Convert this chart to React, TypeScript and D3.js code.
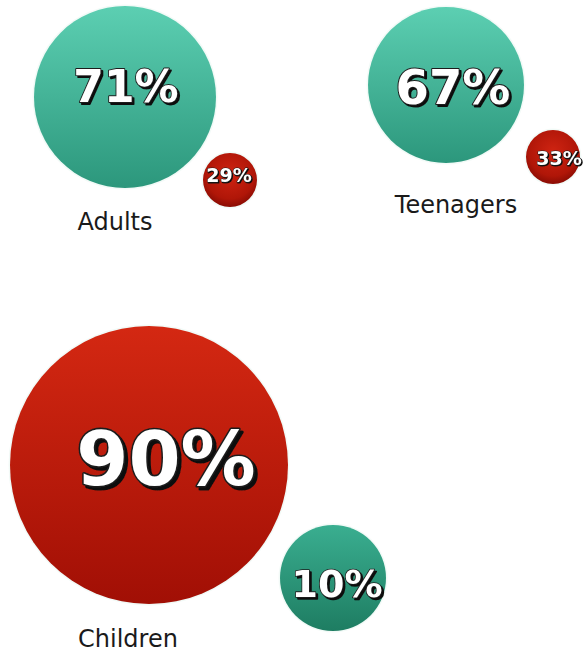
import React from "react";
import * as d3 from "d3";

// ---- data ----
const groups = ["Adults", "Teenagers", "Children"];
const tealValues = [71, 67, 10];
const redValues = [29, 33, 90];

// ---- layout (positions / sizes, not data) ----
const tealLayout = [
  { cx: 125, cy: 97, r: 91, fs: 44, tx: 126, ty: 102 },
  { cx: 446, cy: 85, r: 78, fs: 48, tx: 453, ty: 104 },
  { cx: 333, cy: 578, r: 53, fs: 38, tx: 337, ty: 597 },
];
const redLayout = [
  { cx: 230, cy: 180, r: 27, fs: 19, tx: 229, ty: 182 },
  { cx: 553, cy: 157, r: 27, fs: 19, tx: 559, ty: 165 },
  { cx: 149, cy: 465, r: 139, fs: 75, tx: 166, ty: 485 },
];
const labelLayout = [
  { x: 115, y: 230 },
  { x: 456, y: 213 },
  { x: 128, y: 647 },
];

const fmt = d3.format("d");

function Bubble({ cx, cy, r, fill }: { cx: number; cy: number; r: number; fill: string }) {
  return (
    <g>
      <circle cx={cx} cy={cy} r={r + 1.5} fill="#eaf6f2" opacity={0.6} />
      <circle cx={cx} cy={cy} r={r} fill={fill} />
    </g>
  );
}

function PctText({ x, y, fs, text }: { x: number; y: number; fs: number; text: string }) {
  const sw = Math.max(1, fs / 24);
  const filterId = fs >= 60 ? "shadowL" : fs >= 30 ? "shadowM" : "shadowS";
  return (
    <text
      x={x}
      y={y}
      fontFamily="'DejaVu Sans', sans-serif"
      fontWeight="bold"
      fontSize={fs}
      textAnchor="middle"
      fill="#ffffff"
      stroke="#1e1e1e"
      strokeWidth={sw}
      strokeLinejoin="round"
      filter={`url(#${filterId})`}
      style={{ paintOrder: "stroke" }}
    >
      {text}
    </text>
  );
}

function ShadowFilter({ id, d }: { id: string; d: number }) {
  return (
    <filter id={id} x="-20%" y="-30%" width="140%" height="160%">
      <feOffset in="SourceAlpha" dx={d} dy={d} result="off" />
      <feFlood floodColor="#111111" result="col" />
      <feComposite in="col" in2="off" operator="in" result="shadow" />
      <feMerge>
        <feMergeNode in="shadow" />
        <feMergeNode in="SourceGraphic" />
      </feMerge>
    </filter>
  );
}

export default function App() {
  const width = 587;
  const height = 666;
  return (
    <svg
      width={width}
      height={height}
      style={{ position: "absolute", left: 0, top: 0, background: "#ffffff" }}
    >
      <defs>
        <linearGradient id="tealGrad" x1="0" y1="0" x2="0" y2="1">
          <stop offset="0%" stopColor="#5ccfb2" />
          <stop offset="100%" stopColor="#2c977c" />
        </linearGradient>
        <linearGradient id="tealDarkGrad" x1="0" y1="0" x2="0" y2="1">
          <stop offset="0%" stopColor="#3aae90" />
          <stop offset="100%" stopColor="#1e7d62" />
        </linearGradient>
        <linearGradient id="redGrad" x1="0" y1="0" x2="0" y2="1">
          <stop offset="0%" stopColor="#d42812" />
          <stop offset="100%" stopColor="#a10f05" />
        </linearGradient>
        <radialGradient id="redSmallGrad" cx="0.5" cy="0.4" r="0.6">
          <stop offset="0%" stopColor="#cf2412" />
          <stop offset="75%" stopColor="#b01608" />
          <stop offset="100%" stopColor="#8a0c04" />
        </radialGradient>
        <ShadowFilter id="shadowS" d={1} />
        <ShadowFilter id="shadowM" d={2} />
        <ShadowFilter id="shadowL" d={3} />
      </defs>
      {groups.map((g, i) => {
        const t = tealLayout[i];
        const rd = redLayout[i];
        const tealFill = t.r < 60 ? "url(#tealDarkGrad)" : "url(#tealGrad)";
        const redFill = rd.r < 60 ? "url(#redSmallGrad)" : "url(#redGrad)";
        return (
          <g key={g}>
            <Bubble cx={t.cx} cy={t.cy} r={t.r} fill={tealFill} />
            <Bubble cx={rd.cx} cy={rd.cy} r={rd.r} fill={redFill} />
            <PctText x={t.tx} y={t.ty} fs={t.fs} text={`${fmt(tealValues[i])}%`} />
            <PctText x={rd.tx} y={rd.ty} fs={rd.fs} text={`${fmt(redValues[i])}%`} />
            <text
              x={labelLayout[i].x}
              y={labelLayout[i].y}
              textAnchor="middle"
              fontFamily="'DejaVu Sans', sans-serif"
              fontSize={24}
              fill="#1a1a1a"
            >
              {g}
            </text>
          </g>
        );
      })}
    </svg>
  );
}
